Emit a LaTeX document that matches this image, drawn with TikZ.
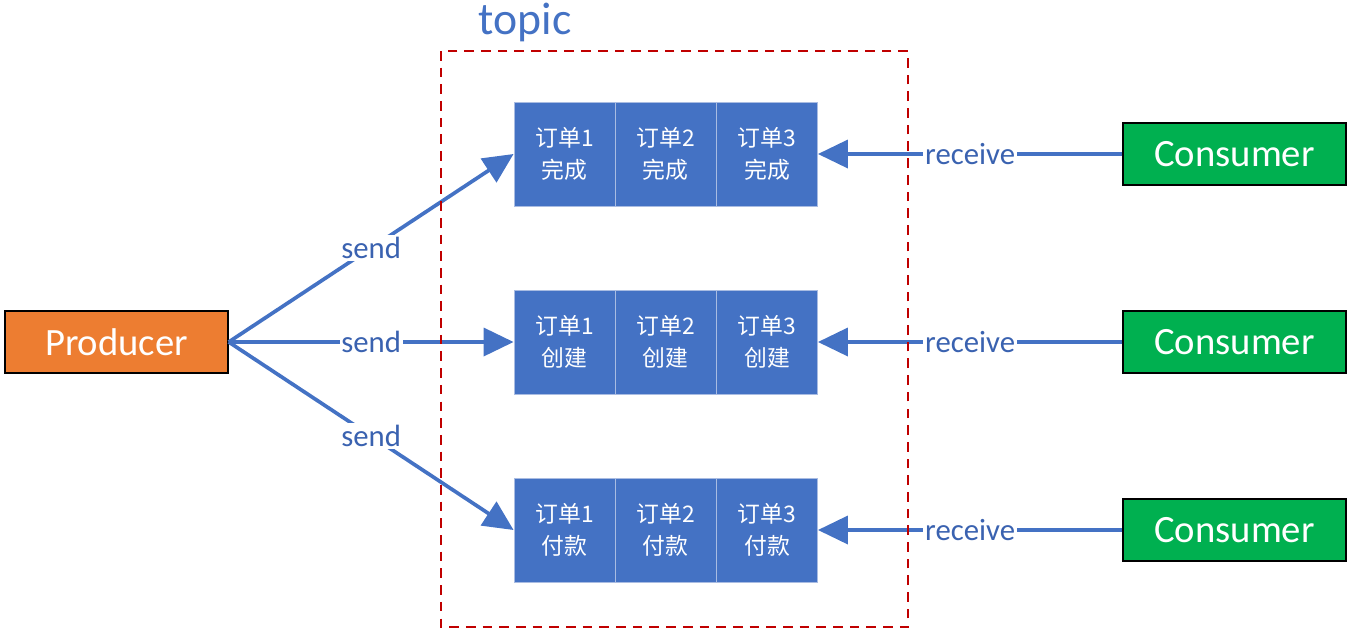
\documentclass[tikz,border=0pt]{standalone}
\usepackage{fontspec}
\setmainfont{Carlito}
\newfontfamily\cjk{Noto Sans CJK SC}
\usetikzlibrary{arrows.meta}
\definecolor{cellblue}{HTML}{4472C4}
\definecolor{cellline}{HTML}{A9BCE2}
\definecolor{prodorange}{HTML}{ED7D31}
\definecolor{consgreen}{HTML}{00B050}
\definecolor{topicred}{HTML}{C00000}
\definecolor{labelblue}{HTML}{3A62B0}
\tikzset{
  cell/.style={fill=cellblue, draw=cellline, line width=0.5pt, text=white,
    minimum width=2.02cm, minimum height=2.08cm, inner sep=0pt, align=center,
    font=\cjk\fontsize{13}{18}\selectfont},
  endbox/.style={draw=black, line width=0.8pt, text=white,
    minimum width=4.46cm, minimum height=1.24cm, inner sep=0pt,
    font=\fontsize{22}{26}\selectfont},
  msg/.style={draw=cellblue, line width=2.1pt,
    -{Triangle[length=0.6cm,width=0.56cm]}},
  msglabel/.style={fill=white, text=labelblue, inner sep=1pt,
    font=\fontsize{17.5}{20}\selectfont}
}
\newcommand{\orderRow}[3]{
  \node[cell] (#1one) at (564.5,#2) {订单1\\#3};
  \node[cell] (#1two) at (665.5,#2) {订单2\\#3};
  \node[cell] (#1three) at (767,#2) {订单3\\#3}; }

\begin{document}
\begin{tikzpicture}[x=0.02cm, y=-0.02cm]
  \useasboundingbox (0,0) rectangle (1352,633);

  \orderRow{done}{154}{完成}
  \orderRow{made}{342}{创建}
  \orderRow{paid}{530}{付款}

  \node[endbox, fill=prodorange] (producer) at (116.5,342) {Producer};
  \node[endbox, fill=consgreen] (consA) at (1234.5,154) {Consumer};
  \node[endbox, fill=consgreen] (consB) at (1234.5,342) {Consumer};
  \node[endbox, fill=consgreen] (consC) at (1234.5,530) {Consumer};

  % send
  \draw[msg] (producer.east) -- node[msglabel] {send} (doneone.west);
  \draw[msg] (producer.east) -- node[msglabel] {send} (madeone.west);
  \draw[msg] (producer.east) -- node[msglabel] {send} (paidone.west);

  % receive
  \draw[msg] (consA.west) -- node[msglabel] {receive} (donethree.east);
  \draw[msg] (consB.west) -- node[msglabel] {receive} (madethree.east);
  \draw[msg] (consC.west) -- node[msglabel] {receive} (paidthree.east);

  % topic
  \draw[topicred, line width=0.85pt, dash pattern=on 5.5pt off 4pt]
    (441,51) rectangle (908,627);
  \node[text=cellblue, font=\fontsize{26}{30}\selectfont] (topic) at (525,22) {topic};
\end{tikzpicture}
\end{document}
